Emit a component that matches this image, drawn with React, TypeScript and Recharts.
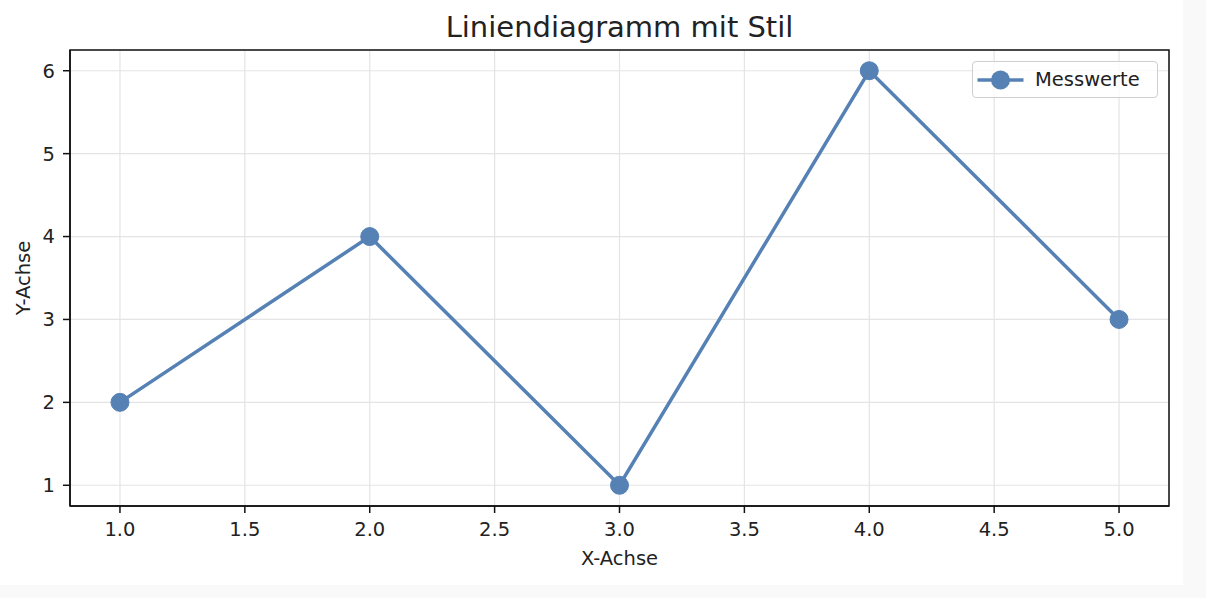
import React from "react";
import { LineChart, Line, XAxis, YAxis, CartesianGrid, Legend, ReferenceArea } from "recharts";

// values
const xValues = [1, 2, 3, 4, 5];
const messwerte = [2, 4, 1, 6, 3];
const xTicks = [1, 1.5, 2, 2.5, 3, 3.5, 4, 4.5, 5];
const yTicks = [1, 2, 3, 4, 5, 6];
const xDomain = [0.8, 5.2];
const yDomain = [0.75, 6.25];

const data = xValues.map((x, i) => ({ x, messwerte: messwerte[i] }));

const FONT = '"DejaVu Sans", sans-serif';
const LINE_COLOR = "#5581b5";
const TEXT_COLOR = "#222";
const FIG_W = 1183;
const FIG_H = 585;

const tickStyle = { fontSize: 19.5, fill: TEXT_COLOR, fontFamily: FONT };

const LegendBox = () => (
  <div
    style={{
      width: 186,
      height: 37,
      boxSizing: "border-box",
      border: "1.5px solid #cfcfcf",
      borderRadius: 4,
      background: "rgba(255,255,255,0.8)",
      display: "flex",
      alignItems: "center",
      fontFamily: FONT,
      fontSize: 19.5,
      color: TEXT_COLOR,
    }}
  >
    <svg width={62} height={30} style={{ display: "block", flex: "none" }}>
      <line x1={4.5} x2={50.5} y1={15} y2={15} stroke={LINE_COLOR} strokeWidth={3.5} />
      <circle cx={27.5} cy={15} r={9.5} fill={LINE_COLOR} />
    </svg>
    <span>Messwerte</span>
  </div>
);

const YLabel = (props: any) => {
  const vb = props.viewBox || {};
  const cx = 30;
  const cy = vb.y + vb.height / 2;
  return (
    <text
      x={cx}
      y={cy}
      transform={`rotate(-90 ${cx} ${cy})`}
      textAnchor="middle"
      fontSize={19.5}
      fontFamily={FONT}
      fill={TEXT_COLOR}
    >
      Y-Achse
    </text>
  );
};

export default function App() {
  return (
    <div
      style={{
        position: "absolute",
        left: 0,
        top: 0,
        width: 1206,
        height: 598,
        background: "#f9f9f9",
      }}
    >
      <div
        style={{
          position: "absolute",
          left: 0,
          top: 0,
          width: FIG_W,
          height: FIG_H,
          background: "#fff",
        }}
      >
        {/* title */}
        <div
          style={{
            position: "absolute",
            left: 70,
            width: 1099,
            top: 12.5,
            textAlign: "center",
            fontFamily: FONT,
            fontSize: 29,
            lineHeight: "29px",
            color: TEXT_COLOR,
          }}
        >
          Liniendiagramm mit Stil
        </div>
        <LineChart
          width={FIG_W}
          height={FIG_H}
          data={data}
          margin={{ top: 50, right: 14, bottom: 0, left: 0 }}
        >
          <CartesianGrid stroke="#e4e4e4" strokeWidth={1.2} />
          <XAxis
            dataKey="x"
            type="number"
            domain={xDomain}
            ticks={xTicks}
            allowDataOverflow
            tickFormatter={(v: number) => v.toFixed(1)}
            height={79}
            tickSize={7}
            tickMargin={9}
            tick={tickStyle}
            axisLine={{ stroke: "#111", strokeWidth: 1.5 }}
            tickLine={{ stroke: "#111", strokeWidth: 1.5 }}
            label={{
              value: "X-Achse",
              position: "insideBottom",
              offset: 20,
              fontSize: 19.5,
              fontFamily: FONT,
              fill: TEXT_COLOR,
            }}
          />
          <YAxis
            type="number"
            domain={yDomain}
            ticks={yTicks}
            allowDataOverflow
            width={70}
            tickSize={7}
            tickMargin={8}
            tick={tickStyle}
            axisLine={{ stroke: "#111", strokeWidth: 1.5 }}
            tickLine={{ stroke: "#111", strokeWidth: 1.5 }}
            label={<YLabel />}
          />
          {/* frame around the plot area, like matplotlib spines */}
          <ReferenceArea
            x1={xDomain[0]}
            x2={xDomain[1]}
            y1={yDomain[0]}
            y2={yDomain[1]}
            fill="none"
            fillOpacity={0}
            stroke="#111"
            strokeWidth={1.5}
            ifOverflow="visible"
          />
          <Legend
            layout="horizontal"
            verticalAlign="middle"
            align="center"
            content={() => <LegendBox />}
            wrapperStyle={{ top: 61, left: 972, width: 186, height: 37 }}
          />
          <Line
            type="linear"
            dataKey="messwerte"
            name="Messwerte"
            stroke={LINE_COLOR}
            strokeWidth={3.5}
            dot={{ r: 9, fill: LINE_COLOR, stroke: LINE_COLOR, strokeWidth: 1 }}
            activeDot={false}
            isAnimationActive={false}
          />
        </LineChart>
      </div>
    </div>
  );
}
